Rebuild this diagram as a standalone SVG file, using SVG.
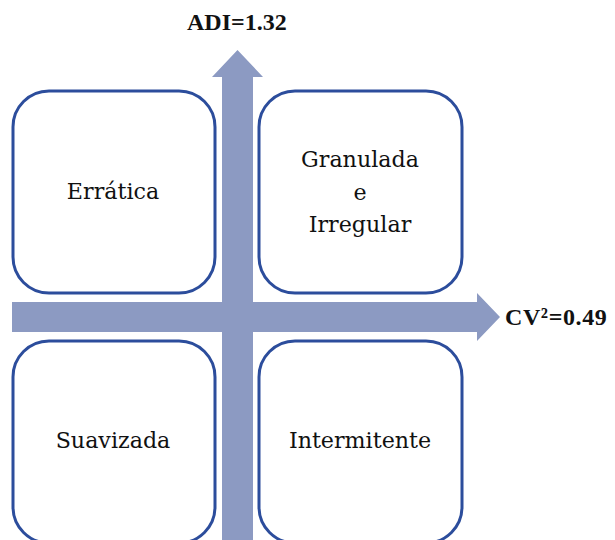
<svg xmlns="http://www.w3.org/2000/svg" width="615" height="540" viewBox="0 0 615 540">
<style>
.box{fill:#ffffff;stroke:#2c4d9c;stroke-width:3}
.arrow{fill:#8c9ac2}
.t{font-family:"DejaVu Serif","Liberation Serif",serif;font-size:22.2px;fill:#111;text-anchor:middle}
.lbl{font-family:"Liberation Serif","DejaVu Serif",serif;font-size:24px;font-weight:bold;fill:#111}
</style>
<rect width="615" height="540" fill="#ffffff"/>
<g id="connectors">
<polygon class="arrow" points="222,540 222,77 212,77 237.5,50 263,77 253,77 253,540"/>
<polygon class="arrow" points="12,302 477,302 477,293 500,317 477,341 477,332 12,332"/>
</g>
<g id="node-erratica">
<rect class="box" x="13" y="91" width="202" height="202" rx="36"/>
<text class="t" x="113" y="199">Errática</text>
</g>
<g id="node-granulada">
<rect class="box" x="259" y="91" width="203" height="202" rx="36"/>
<text class="t" x="360" y="167">Granulada</text>
<text class="t" x="360" y="200">e</text>
<text class="t" x="360" y="232">Irregular</text>
</g>
<g id="node-suavizada">
<rect class="box" x="13" y="341" width="202" height="202" rx="36"/>
<text class="t" x="113" y="448">Suavizada</text>
</g>
<g id="node-intermitente">
<rect class="box" x="259" y="341" width="203" height="202" rx="36"/>
<text class="t" x="360" y="448">Intermitente</text>
</g>
<g id="labels">
<text class="lbl" x="187" y="30">ADI=1.32</text>
<text class="lbl" x="505" y="325" font-size="25" letter-spacing="0.6">CV²=0.49</text>
</g>
</svg>
